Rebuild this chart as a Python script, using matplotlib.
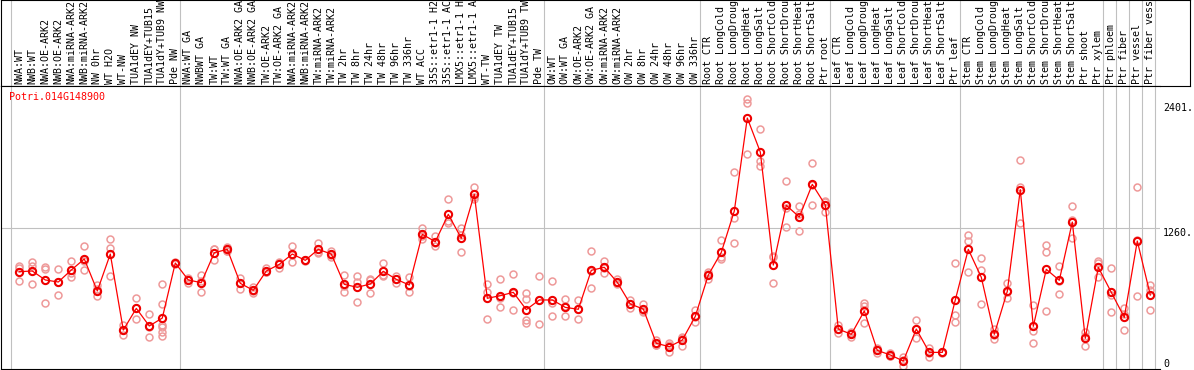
import numpy as np
import matplotlib
matplotlib.use('Agg')
import matplotlib.pyplot as plt

# sample names (as shown, cut to the header height)
labels = [
    "NWA:WT", "NWB:WT", "NWA:OE-ARK2", "NWB:OE-ARK2", "NWA:miRNA-ARK2", "NWB:miRNA-ARK2",
    "NW 0hr", "WT H2O", "WT-NW", "TUA1dEY NW", "TUA1dEY+TUB15", "TUA1dY+TUB9 NW", "Pde NW",
    "NWA:WT GA", "NWBWT GA", "TW:WT", "TW:WT GA", "NWA:OE-ARK2 GA", "NWB:OE-ARK2 GA",
    "TW:OE-ARK2", "TW:OE-ARK2 GA", "NWA:miRNA-ARK2", "NWB:miRNA-ARK2", "TW:miRNA-ARK2", "TW:miRNA-ARK2",
    "TW 2hr", "TW 8hr", "TW 24hr", "TW 48hr", "TW 96hr", "TW 336hr", "WT ACC",
    "35S::etr1-1 H2", "35S::etr1-1 AC", "LMX5::etr1-1 H", "LMX5::etr1-1 A",
    "WT-TW", "TUA1dEY TW", "TUA1dEY+TUB15", "TUA1dY+TUB9 TW", "Pde TW",
    "OW:WT", "OW:WT GA", "OW:OE-ARK2", "OW:OE-ARK2 GA", "OW:miRNA-ARK2", "OW:miRNA-ARK2",
    "OW 2hr", "OW 8hr", "OW 24hr", "OW 48hr", "OW 96hr", "OW 336hr",
    "Root CTR", "Root LongCold", "Root LongDroug", "Root LongHeat", "Root LongSalt",
    "Root ShortCold", "Root ShortDrou", "Root ShortHeat", "Root ShortSalt", "Ptr root",
    "Leaf CTR", "Leaf LongCold", "Leaf LongDroug", "Leaf LongHeat", "Leaf LongSalt",
    "Leaf ShortCold", "Leaf ShortDrou", "Leaf ShortHeat", "Leaf ShortSalt", "Ptr leaf",
    "Stem CTR", "Stem LongCold", "Stem LongDroug", "Stem LongHeat", "Stem LongSalt",
    "Stem ShortCold", "Stem ShortDrou", "Stem ShortHeat", "Stem ShortSalt", "Ptr shoot",
    "Ptr xylem", "Ptr phloem", "Ptr fiber", "Ptr vessel", "Ptr fiber vess",
]

# mean expression per sample
means = [
    867, 873, 793, 775, 882, 980, 695, 1024, 347, 540, 383, 454, 944,
    793, 769, 1036, 1066, 763, 701, 873, 932, 1024, 968, 1066, 1024,
    754, 728, 757, 870, 799, 748, 1200, 1134, 1378, 1164, 1556, 630, 653, 683, 529, 615,
    615, 549, 532, 879, 906, 772, 579, 534, 229, 199, 258, 469,
    837, 1039, 1407, 2236, 1933, 926, 1458, 1354, 1645, 1461,
    356, 309, 517, 166, 125, 71, 356, 148, 148, 615,
    1066, 817, 309, 692, 1598, 380, 888, 790, 1309, 273,
    906, 683, 460, 1140, 659,
]

# individual replicates
reps = [
    [920, 784, 897], [950, 920, 757], [912, 888, 591], [888, 659, 778], [959, 858, 817],
    [1096, 882, 962], [748, 713, 650], [1158, 1075, 828], [392, 303, 347], [630, 445, 545],
    [487, 288, 374], [757, 579, 392, 333, 294, 370], [955, 944, 933],
    [814, 769, 796], [837, 683, 787], [1069, 968, 1071], [1090, 1055, 1053], [814, 713, 762],
    [733, 674, 696], [897, 860, 862], [956, 897, 943], [1096, 956, 1020], [975, 968, 961],
    [1125, 1039, 1034], [1051, 1001, 1020],
    [837, 683, 742], [828, 778, 597], [802, 674, 795], [944, 834, 832], [828, 769, 800],
    [823, 683, 738], [1259, 1158, 1183], [1185, 1099, 1118], [1514, 1298, 1322],
    [1259, 1039, 1194], [1618, 1535, 1515], [757, 683, 445], [799, 630, 549], [846, 526, 677],
    [680, 621, 436, 413], [828, 398, 619],
    [784, 585, 469], [621, 469, 557], [615, 445, 536], [1048, 719, 870], [962, 852, 904],
    [799, 763, 754], [615, 540, 582], [582, 505, 516], [258, 214, 215], [229, 154, 214],
    [288, 208, 278], [526, 416, 465],
    [867, 799, 845], [1149, 1001, 977], [1752, 1348, 1119], [2401, 2370, 1915],
    [2135, 1856, 1808], [1010, 766, 1002], [1675, 1262, 1437], [1452, 1229, 1381],
    [1835, 1461, 1639], [1500, 1396, 1487],
    [392, 324, 352], [318, 282, 327], [585, 407, 559], [184, 146, 168], [140, 118, 117],
    [110, 27, 76], [436, 276, 356], [190, 110, 144], [152, 148, 144], [944, 478, 416],
    [1194, 1140, 867], [986, 882, 576], [356, 264, 307], [763, 630, 683], [1862, 1618, 1298],
    [570, 339, 229], [1105, 1039, 517], [920, 668, 782], [1449, 1327, 1164], [327, 202, 290],
    [965, 940, 817], [897, 659, 505], [540, 347, 493], [1618, 650, 1152], [748, 704, 526],
]

# last sample index of each group (separator lines)
group_ends = [-1, 12, 40, 52, 62, 72, 83, 84, 85, 86, 87]

gene = "Potri.014G148900"

W, H = 1194, 370
fig = plt.figure(figsize=(W / 100, H / 100), dpi=100)


def rect(l, t, r, b):
    return [l / W, 1 - b / H, (r - l) / W, (b - t) / H]


# pixel position of sample 0 and spacing -> data x limits
x0, step = 19.3, 13.0


def xl(px):
    return (px - x0) / step


ax_h = fig.add_axes(rect(1, 0, 1190, 86))
ax = fig.add_axes(rect(1, 86, 1160, 369))

mono = 'DejaVu Sans Mono'
fs = 7.2
grid_c = '#c0c0c0'

x = np.arange(len(labels))
ymax = max(max(r) for r in reps)
top = ymax * 1.05

# header with sample names
ax_h.set_xlim(xl(1), xl(1190))
ax_h.set_ylim(0, 1)
ax_h.set_xticks([])
ax_h.set_yticks([])
for s in ax_h.spines.values():
    s.set_linewidth(0.8)
for i, lab in enumerate(labels):
    ax_h.text(i, 0.025, lab, rotation=90, ha='center', va='bottom',
              fontsize=fs, family=mono, color='black')

# plot area
ax.set_xlim(xl(1), xl(1160))
ax.set_ylim(0, top)
ax.set_xticks([])
ax.set_yticks([])
ax.spines['right'].set_visible(False)
for s in ['left', 'bottom', 'top']:
    ax.spines[s].set_linewidth(0.8)

for g in group_ends:
    ax.axvline(g + 0.36, color=grid_c, lw=0.8, zorder=0)
    ax_h.axvline(g + 0.36, color=grid_c, lw=0.8, zorder=0)
ax.axhline(top / 2, color=grid_c, lw=0.8, zorder=0)

# replicates
for i, r in enumerate(reps):
    ax.plot([i] * len(r), r, 'o', ms=5, mfc='none', mec='#ee9999', mew=1.1, zorder=2)

# means
ax.plot(x, means, '-', color='red', lw=0.9, zorder=3)
ax.plot(x, means, 'o', ms=5.2, mfc='none', mec='#ee0000', mew=1.5, zorder=4)

ax.text(8 / 1159, 1 - 11 / 283, gene, transform=ax.transAxes, color='red',
        fontsize=fs, family=mono, ha='left', va='center')

# value labels on the right
ytr = ax.get_yaxis_transform()
lx = 1 + 3 / 1159
ax.annotate(f"{ymax}.", xy=(lx, ymax), xycoords=ytr, xytext=(0, -4),
            textcoords='offset pixels', ha='left', va='top', fontsize=fs,
            family=mono, annotation_clip=False)
ax.text(lx, top / 2, f"{int(top / 2)}.", transform=ytr, ha='left', va='top',
        fontsize=fs, family=mono, clip_on=False)
ax.text(lx, 0, "0", transform=ytr, ha='left', va='bottom', fontsize=fs,
        family=mono, clip_on=False)

fig.savefig('out.png', dpi=100)
